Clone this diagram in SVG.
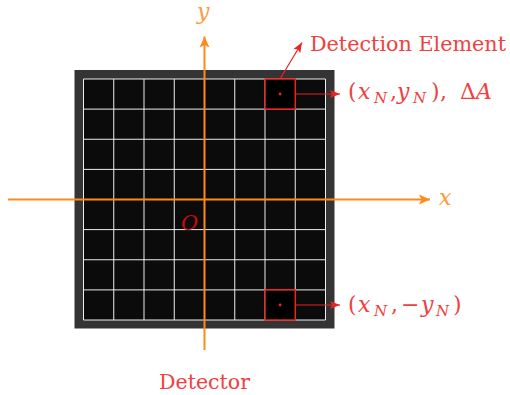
<svg xmlns="http://www.w3.org/2000/svg" width="510" height="395" viewBox="0 0 510 395">
<style>
  .grid { stroke: #eeeeee; stroke-width: 1; fill: none; }
  .axis { stroke: #ff8a1c; stroke-width: 2; fill: none; }
  .lead { stroke: #e82424; stroke-width: 1.2; fill: none; }
  .elem { fill: #000; stroke: #e82424; stroke-width: 1.5; }
  text { font-family: "DejaVu Serif", "Liberation Serif", serif; }
  .lbl { fill: #f04040; font-size: 20px; }
  .m { fill: #f04040; font-size: 22px; }
  .it { font-style: italic; }
  .sub { fill: #f04040; font-style: italic; font-size: 15px; }
  .axl { font-style: italic; fill: #ff9a3c; font-size: 22px; }
</style>
<defs>
  <marker id="ao" markerUnits="userSpaceOnUse" markerWidth="14" markerHeight="12" viewBox="-12 -6 13 12" refX="0" refY="0" orient="auto">
    <path d="M0,0 L-11,-5 L-8.5,0 L-11,5 Z" fill="#ff8a1c"/>
  </marker>
  <marker id="ar" markerUnits="userSpaceOnUse" markerWidth="12" markerHeight="10" viewBox="-11 -5 12 10" refX="0" refY="0" orient="auto">
    <path d="M0,0 L-10,-4 L-8,0 L-10,4 Z" fill="#e82424"/>
  </marker>
</defs>

<g id="detector">
  <rect x="74.5" y="70" width="260" height="258.5" fill="#343434"/>
  <rect x="83.5" y="79" width="242" height="241" fill="#0b0b0b"/>
  <path class="grid" d="M83.5,79V320M113.75,79V320M144,79V320M174.25,79V320M204.5,79V320M234.75,79V320M265,79V320M295.25,79V320M325.5,79V320
    M83.5,79H325.5M83.5,109.1H325.5M83.5,139.25H325.5M83.5,169.4H325.5M83.5,199.5H325.5M83.5,229.6H325.5M83.5,259.75H325.5M83.5,289.9H325.5M83.5,320H325.5"/>
</g>

<g id="element-top">
  <rect class="elem" x="265" y="79" width="30.25" height="30.1"/>
  <circle cx="280.1" cy="94" r="1.4" fill="#e82424"/>
</g>
<g id="element-bottom">
  <rect class="elem" x="265" y="289.9" width="30.25" height="30.1"/>
  <circle cx="280.1" cy="305" r="1.4" fill="#e82424"/>
</g>

<g id="connectors">
  <line class="axis" x1="8" y1="199.5" x2="430" y2="199.5" marker-end="url(#ao)"/>
  <line class="axis" x1="204.5" y1="350" x2="204.5" y2="36.5" marker-end="url(#ao)"/>
  <line class="lead" x1="280" y1="79" x2="302" y2="42.5" marker-end="url(#ar)"/>
  <line class="lead" x1="295.25" y1="94" x2="340" y2="94" marker-end="url(#ar)"/>
  <line class="lead" x1="295.25" y1="305" x2="340" y2="305" marker-end="url(#ar)"/>
</g>

<g id="labels">
  <text class="axl" x="439" y="205">x</text>
  <text class="axl" x="197" y="19">y</text>
  <text x="181" y="230" font-style="italic" font-size="21" fill="#c80a0a">O</text>
  <text class="lbl" x="310" y="51" textLength="196" lengthAdjust="spacingAndGlyphs">Detection Element</text>
  <text class="lbl" x="159" y="389" font-size="21" textLength="91" lengthAdjust="spacingAndGlyphs" style="font-size:21px">Detector</text>

  <g id="label-top">
    <text class="m" x="348" y="99">(</text>
    <text class="m it" x="358" y="99">x</text>
    <text class="sub" x="374" y="103">N</text>
    <text class="m" x="390" y="99">,</text>
    <text class="m it" x="397" y="99">y</text>
    <text class="sub" x="413" y="103">N</text>
    <text class="m" x="431" y="99">)</text>
    <text class="m" x="440" y="99">,</text>
    <text class="m" x="460" y="99">Δ</text>
    <text class="m it" x="476" y="99">A</text>
  </g>
  <g id="label-bottom">
    <text class="m" x="348" y="312">(</text>
    <text class="m it" x="358" y="312">x</text>
    <text class="sub" x="374" y="316">N</text>
    <text class="m" x="391" y="312">,</text>
    <text class="m" x="401" y="312">−</text>
    <text class="m it" x="421" y="312">y</text>
    <text class="sub" x="436" y="316">N</text>
    <text class="m" x="453" y="312">)</text>
  </g>
</g>
</svg>
